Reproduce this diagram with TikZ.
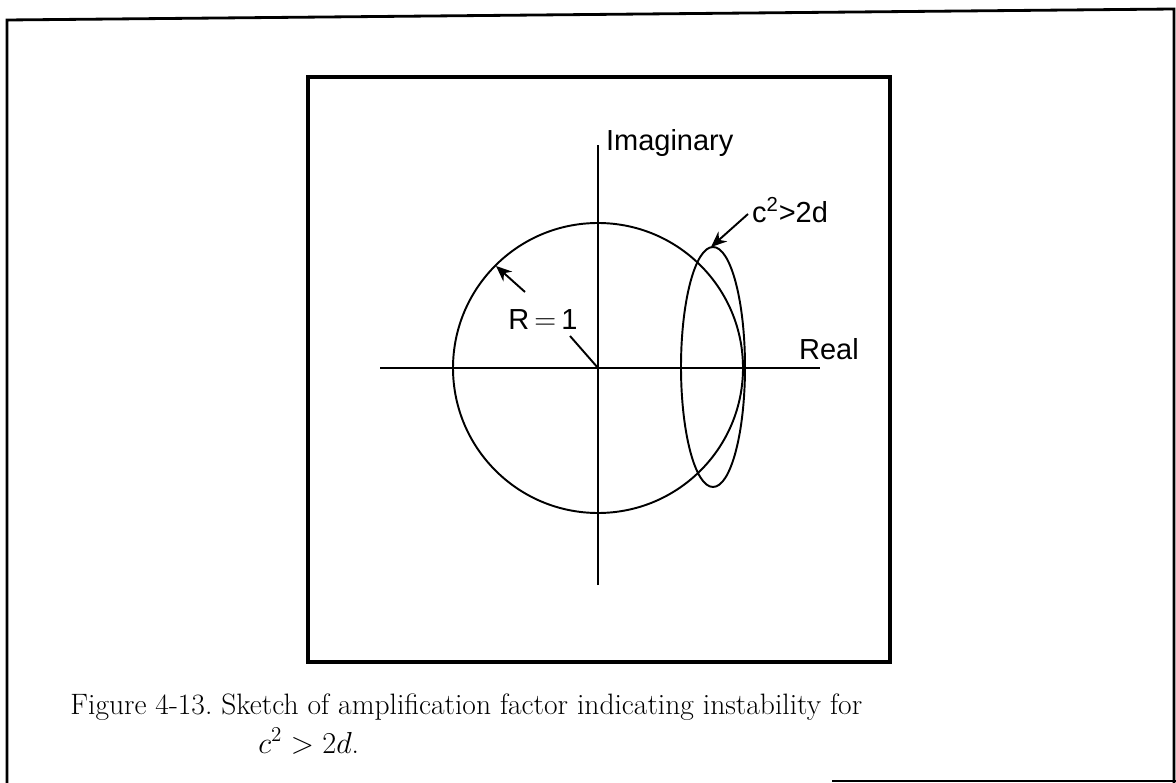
\documentclass[tikz,border=0pt]{standalone}
\usepackage{amsmath,amssymb}
\usepackage{fontspec}
\newfontfamily\lblfont{Liberation Sans}
\usepackage{tikz}
\usetikzlibrary{arrows.meta,positioning,calc}

\begin{document}
\begin{tikzpicture}[
    x=0.02cm, y=-0.02cm,
    frame/.style={line width=1.6pt},
    curve/.style={line width=1.1pt},
    lbl/.style={font=\lblfont\fontsize{16.5}{19}\selectfont, inner sep=1pt},
    ptr/.style={line width=1.1pt, -{Stealth[length=9pt,width=7.5pt]}},
    captxt/.style={font=\fontsize{16.8}{19}\selectfont, inner sep=0pt, anchor=base west},
]
\useasboundingbox (0,0) rectangle (1176,783);

% Outer frame
\draw[frame] (7,783) -- (7,20) -- (1174,9) -- (1174,783);
\draw[frame] (832,781) -- (1176,781);

% Inner frame
\draw[line width=2pt] (308,77) rectangle (890,662);

% Axes
\coordinate (O) at (598,368);
\coordinate (ytop) at (598,145);
\coordinate (ybot) at (598,585);
\coordinate (xl) at (380,368);
\coordinate (xr) at (820,368);
\draw[curve] (ybot) -- (ytop);
\draw[curve] (xl) -- (xr);
\node[lbl, anchor=west] (imag) at (604,143) {Imaginary};
\node[lbl, anchor=base west] (real) at (797,360) {Real};

% Unit circle and loop
\draw[curve] (O) circle[radius=145];
\coordinate (loopc) at (713,367);
\draw[curve] (loopc) ellipse[x radius=32, y radius=120];

% R=1 label
\node[lbl] (rone) at (543,320) {R$\,=\,$1};
\coordinate (rtail) at (525,292);
\coordinate (rtip) at ($(O)+(-102,-102)$);
\draw[ptr] (rtail) -- (rtip);
\coordinate (rfoot) at (570,336);
\draw[curve] (rfoot) -- (O);

% c^2>2d label
\node[lbl, anchor=west] (cond) at (750,210) {c$^{\text{2}}$>2d};
\coordinate (ctail) at (748,214);
\coordinate (ctip) at ($(loopc)+(-2,-120)$);
\draw[ptr] (ctail) -- (ctip);

% Caption
\node[captxt] (capa) at (70,714) {Figure 4-13.\ Sketch of amplification factor indicating instability for};
\node[captxt] (capb) at (258,753) {$c^2 > 2d$.};
\end{tikzpicture}
\end{document}
